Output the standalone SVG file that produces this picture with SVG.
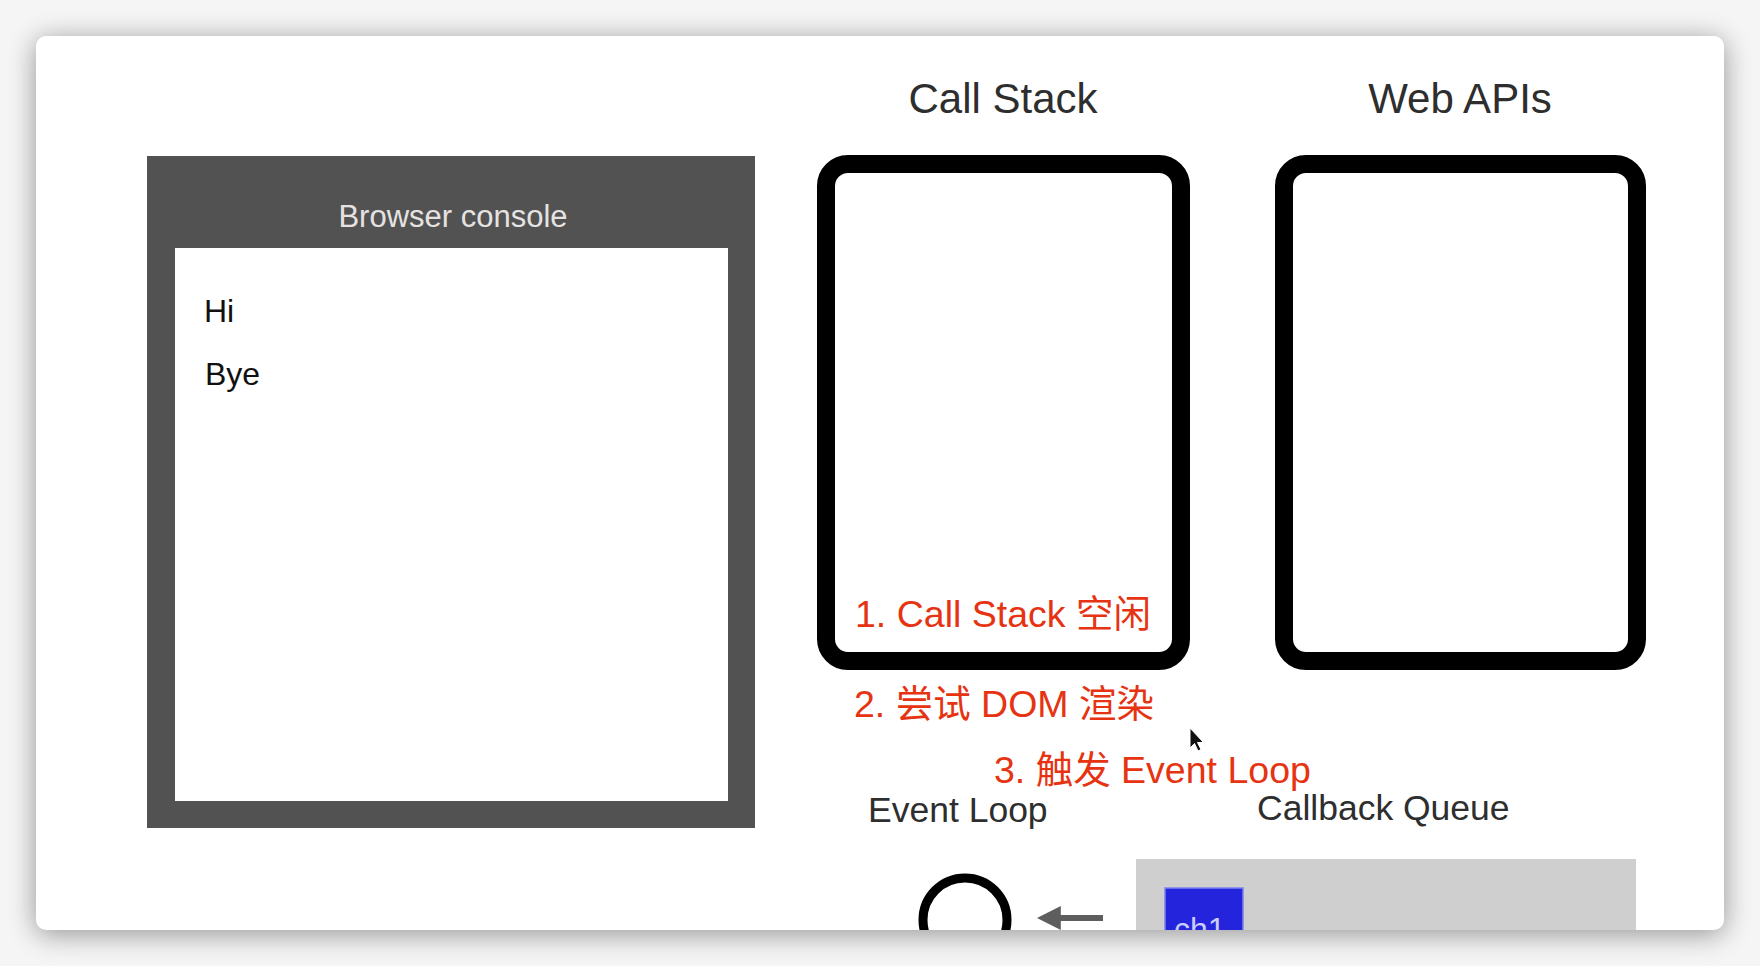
<svg xmlns="http://www.w3.org/2000/svg" width="1760" height="966" viewBox="0 0 1760 966">
  <defs>
    <filter id="shadow" x="-10%" y="-10%" width="120%" height="130%">
      <feGaussianBlur stdDeviation="14"/>
    </filter>
    <clipPath id="cardClip">
      <rect x="36" y="36" width="1688" height="894" rx="10"/>
    </clipPath>
    <marker id="arrowHead" viewBox="0 0 10 10" refX="2" refY="5" markerWidth="4" markerHeight="4" orient="auto-start-reverse" markerUnits="strokeWidth">
      <path d="M0,0 L10,5 L0,10 z" fill="#5e5e5e"/>
    </marker>
    <style>
      .title { font-family: "Liberation Sans", Arial, sans-serif; font-size: 42px; fill: #2e2e2e; text-anchor: middle; }
      .label { font-family: "Liberation Sans", Arial, sans-serif; font-size: 35.5px; fill: #2e2e2e; }
      .red { font-family: "Liberation Sans", "Noto Sans CJK SC", sans-serif; font-size: 37.5px; fill: #e63312; }
      .log { font-family: "Liberation Sans", Arial, sans-serif; font-size: 32px; fill: #111111; }
      .box { fill: #ffffff; stroke: #000000; stroke-width: 18; }
    </style>
  </defs>

  <!-- background & window shadow -->
  <rect x="0" y="0" width="1760" height="966" fill="#f5f5f5"/>
  <rect x="36" y="40" width="1688" height="894" rx="10" fill="#000000" opacity="0.4" filter="url(#shadow)"/>
  <rect id="card" x="36" y="36" width="1688" height="894" rx="10" fill="#ffffff"/>

  <g clip-path="url(#cardClip)">
    <!-- Browser console -->
    <g id="browser-console">
      <rect x="147" y="156" width="608" height="672" fill="#525252"/>
      <rect x="175" y="248" width="553" height="553" fill="#ffffff"/>
      <text x="453" y="227" text-anchor="middle" font-family="'Liberation Sans', Arial, sans-serif" font-size="31" fill="#e6e2e2">Browser console</text>
      <text class="log" x="204" y="322">Hi</text>
      <text class="log" x="205" y="385">Bye</text>
    </g>

    <!-- Call Stack -->
    <g id="call-stack">
      <text class="title" x="1003" y="113">Call Stack</text>
      <rect class="box" x="826" y="164" width="355" height="497" rx="22"/>
    </g>

    <!-- Web APIs -->
    <g id="web-apis">
      <text class="title" x="1460" y="113">Web APIs</text>
      <rect class="box" x="1284" y="164" width="353" height="497" rx="22"/>
    </g>

    <!-- annotations -->
    <g id="notes">
      <text class="red" x="855" y="627">1. Call Stack 空闲</text>
      <text class="red" x="854" y="717">2. 尝试 DOM 渲染</text>
      <text class="red" x="994" y="783">3. 触发 Event Loop</text>
    </g>

    <!-- Event Loop -->
    <g id="event-loop">
      <text class="label" x="868" y="822">Event Loop</text>
      <circle cx="965" cy="920" r="42" fill="none" stroke="#000000" stroke-width="9"/>
    </g>

    <!-- Callback Queue -->
    <g id="callback-queue">
      <text class="label" x="1257" y="820">Callback Queue</text>
      <rect x="1136" y="859" width="500" height="100" fill="#cfcfcf"/>
      <rect x="1165" y="888" width="78" height="70" fill="#2424dd" stroke="#7c82f0" stroke-width="1.5"/>
      <text x="1174" y="940" font-family="'Liberation Sans', Arial, sans-serif" font-size="32" fill="#c9ccff">ch1</text>
    </g>

    <!-- connectors -->
    <g id="connectors">
      <line x1="1103" y1="918" x2="1056" y2="918" stroke="#5e5e5e" stroke-width="6" marker-end="url(#arrowHead)"/>
    </g>

    <!-- mouse pointer -->
    <g id="pointer">
      <path d="M1190,728 L1190,748 L1194.5,743.5 L1198,751 L1201,749.5 L1197.5,742.5 L1203.5,742.5 Z" fill="#111111" stroke="#ffffff" stroke-width="1"/>
    </g>
  </g>
</svg>
